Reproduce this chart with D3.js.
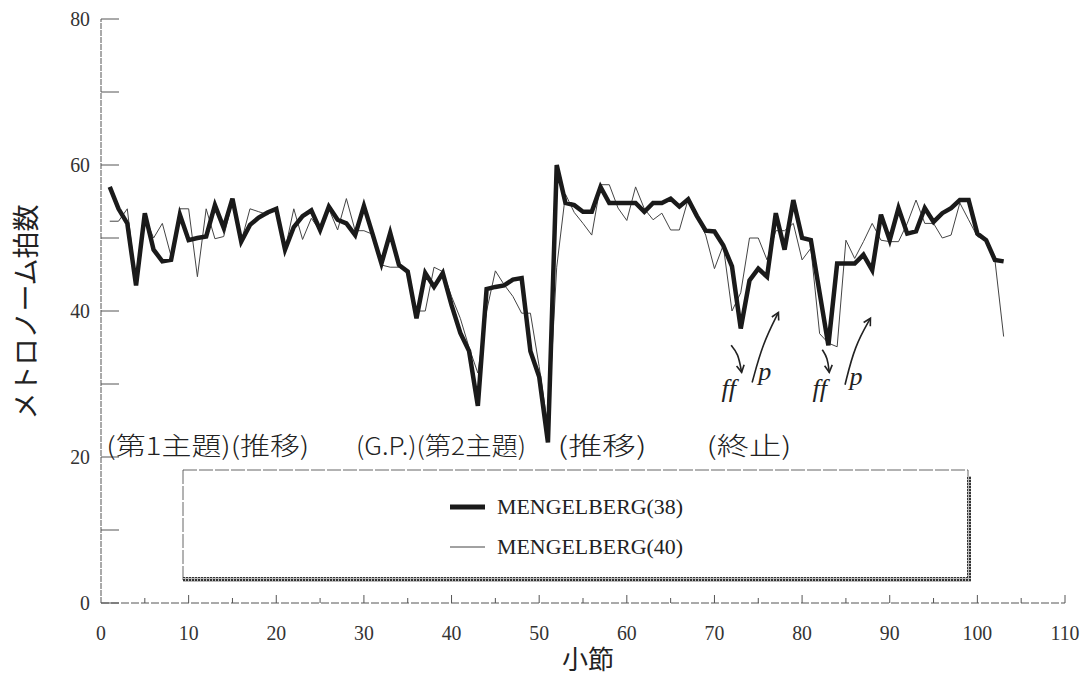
<!DOCTYPE html>
<html>
<head>
<meta charset="utf-8">
<script src="https://cdn.jsdelivr.net/npm/d3@7"></script>
<style>
  body { margin: 0; background: #fff; }
  svg { display: block; }
</style>
</head>
<body>
<svg id="canvas" width="1084" height="678"></svg>
<script>
// measures 1..103
const measures = d3.range(1, 104);

// MENGELBERG (38) - thick line
const mengelberg38 = [
  57, 54, 52, 43.5, 53.4, 48.4, 46.8, 47, 53.2, 49.7,
  50, 50.2, 54.5, 51.4, 55.4, 49.5, 51.8, 52.8, 53.5, 54,
  48.4, 51.5, 53, 53.8, 51.1, 54.3, 52.5, 52, 50.4, 54.4,
  50.5, 46.5, 50.7, 46.3, 45.4, 39, 45.2, 43.3, 45.2, 40.8,
  37, 34.5, 27, 43, 43.3, 43.5, 44.3, 44.5, 34.5, 31,
  22, 60, 54.8, 54.5, 53.6, 53.6, 57, 54.8, 54.8, 54.8,
  54.8, 53.6, 54.8, 54.8, 55.4, 54.3, 55.3, 53, 51, 50.9,
  49, 46.1, 37.6, 44.2, 45.8, 44.7, 53.4, 48.4, 55.2, 50,
  49.7, 42.5, 35.3, 46.5, 46.5, 46.5, 47.7, 45.6, 53.2, 49.7,
  54.1, 50.6, 50.9, 54.1, 52.2, 53.4, 54.1, 55.2, 55.2, 50.6,
  49.7, 47, 46.8
];

// MENGELBERG (40) - thin line
const mengelberg40 = [
  52.3, 52.3, 54, 43.8, 53, 50, 52, 47.5, 54, 54,
  44.7, 54, 49.9, 50.2, 55, 49.5, 54, 53.6, 53.2, 54,
  48.4, 54, 49.8, 52.7, 51, 54, 51.1, 55.4, 51, 51,
  50.5, 46.3, 46, 46, 45.5, 40, 40, 46, 45.4, 42,
  39, 35, 31.5, 40, 45.5, 43.6, 42, 39.7, 39.7, 32.4,
  24, 46, 56, 53.5, 52, 50.4, 57.3, 57.3, 54.1, 52.4,
  57, 54, 52.5, 53.4, 51.1, 51.1, 55.3, 53, 50.4, 45.8,
  49, 40, 42.5, 50, 50, 47, 51, 51, 52, 47,
  48.6, 36.9, 35.6, 35.1, 49.7, 47.2, 49.5, 52, 49.7, 49.5,
  49.5, 52, 55.2, 52, 52, 50, 50.4, 54.8, 52.5, 50.2,
  49.7, 47, 36.5
];

const xTicks = d3.range(0, 111, 10);
const yTicks = d3.range(0, 81, 20);
const seriesNames = ["MENGELBERG(38)", "MENGELBERG(40)"];

// hand-written notes: [measure, value, text]
const sectionNotes = [
  [0.6, 20.3, "(第1主題)(推移)"],
  [29.1, 20.3, "(G.P.)(第2主題)"],
  [52.1, 20.3, "(推移)"],
  [69.1, 20.3, "(終止)"]
];
const sectionSpan = [203, 170, 89, 85];
const dynNotes = [
  [70.8, 28.2, "ff"],
  [75, 30.6, "p"],
  [81.2, 28.2, "ff"],
  [85.4, 29.8, "p"]
];

const svg = d3.select("#canvas");
const x = d3.scaleLinear().domain([0, 110]).range([101, 1065]);
const y = d3.scaleLinear().domain([0, 80]).range([603, 19]);

const ink = "#1a1a1a";
const grey = "#555";

// axes
const axG = svg.append("g");
axG.append("line")
  .attr("x1", x(0)).attr("x2", x(0)).attr("y1", y(0)).attr("y2", y(80))
  .style("stroke", grey).style("stroke-width", 1).style("stroke-dasharray", "6,1");
axG.append("line")
  .attr("x1", x(0)).attr("x2", x(110)).attr("y1", y(0)).attr("y2", y(0))
  .style("stroke", grey).style("stroke-width", 1).style("stroke-dasharray", "8,2");

axG.selectAll(".ytick")
  .data(d3.range(0, 81, 10))
  .join("line")
  .attr("x1", x(0)).attr("x2", x(0) + 18)
  .attr("y1", (d) => y(d)).attr("y2", (d) => y(d))
  .style("stroke", grey).style("stroke-width", 1);

axG.selectAll(".xtick")
  .data(d3.range(5, 111, 5))
  .join("line")
  .attr("x1", (d) => x(d)).attr("x2", (d) => x(d))
  .attr("y1", y(0)).attr("y2", (d) => y(0) - (d % 10 === 0 ? 8 : 5))
  .style("stroke", grey).style("stroke-width", 1);

axG.selectAll(".ylab")
  .data(yTicks)
  .join("text")
  .attr("transform", (d) => "translate(90," + (y(d) + 7) + ") scale(0.9,1)")
  .attr("text-anchor", "end")
  .style("font-family", "Liberation Serif")
  .style("font-size", "22px")
  .style("fill", "#333")
  .text((d) => d);

axG.selectAll(".xlab")
  .data(xTicks)
  .join("text")
  .attr("transform", (d) => "translate(" + x(d) + ",640) scale(0.9,1)")
  .attr("text-anchor", "middle")
  .style("font-family", "Liberation Serif")
  .style("font-size", "22px")
  .style("fill", "#333")
  .text((d) => d);

svg.append("text")
  .attr("x", 588).attr("y", 669)
  .attr("text-anchor", "middle")
  .style("font-family", "Noto Sans CJK JP")
  .style("font-size", "26px")
  .style("fill", "#222")
  .text("小節");

svg.append("text")
  .attr("transform", "translate(36,312) rotate(-90)")
  .attr("text-anchor", "middle")
  .style("font-family", "Noto Sans CJK JP")
  .style("font-size", "27px")
  .style("fill", "#222")
  .text("メトロノーム拍数");

// lines
const line = d3.line()
  .x((d, i) => x(measures[i]))
  .y((d) => y(d));

svg.append("path")
  .datum(mengelberg40)
  .attr("d", line)
  .style("fill", "none")
  .style("stroke", "#444")
  .style("stroke-width", 1);

svg.append("path")
  .datum(mengelberg38)
  .attr("d", line)
  .style("fill", "none")
  .style("stroke", ink)
  .style("stroke-width", 4.5)
  .style("stroke-linejoin", "miter");

// notes
svg.selectAll(".sec")
  .data(sectionNotes)
  .join("text")
  .attr("x", (d) => x(d[0])).attr("y", (d) => y(d[1]))
  .attr("textLength", (d, i) => sectionSpan[i])
  .attr("lengthAdjust", "spacingAndGlyphs")
  .style("font-family", "Noto Sans CJK JP")
  .style("font-weight", 300)
  .style("font-size", "25px")
  .style("fill", "#222")
  .text((d) => d[2]);

svg.selectAll(".dyn")
  .data(dynNotes)
  .join("text")
  .attr("x", (d) => x(d[0])).attr("y", (d) => y(d[1]))
  .style("font-family", "Liberation Serif")
  .style("font-style", "italic")
  .style("font-size", "26px")
  .style("fill", "#222")
  .text((d) => d[2]);

// arrows: down to ff, up from p
const arrowDown = [[71.9, 35.3], [72.7, 34.2], [73.1, 31.6]];
const arrowUp = [[74.3, 30.2], [75.5, 35.5], [77.3, 39.8]];
const arrowDown2 = [[82.3, 34.7], [82.9, 33.6], [83.1, 31.6]];
const arrowUp2 = [[84.9, 29.9], [86, 35.2], [87.8, 39]];
const curve = d3.line().x((d) => x(d[0])).y((d) => y(d[1])).curve(d3.curveBasis);
const arrows = [arrowDown, arrowUp, arrowDown2, arrowUp2];
const arrG = svg.append("g")
  .style("fill", "none").style("stroke", "#222").style("stroke-width", 1.6);
arrows.forEach((pts) => {
  arrG.append("path").attr("d", curve(pts));
  const a = pts[pts.length - 1], b = pts[pts.length - 2];
  const ax = x(a[0]), ay = y(a[1]);
  const ang = Math.atan2(ay - y(b[1]), ax - x(b[0]));
  const L = 8;
  arrG.append("path").attr("d",
    "M" + (ax - L * Math.cos(ang - 0.5)) + "," + (ay - L * Math.sin(ang - 0.5)) +
    "L" + ax + "," + ay +
    "L" + (ax - L * Math.cos(ang + 0.5)) + "," + (ay - L * Math.sin(ang + 0.5)));
});

// legend box
const defs = svg.append("defs");
const pat = defs.append("pattern")
  .attr("id", "hatch").attr("width", 3).attr("height", 3)
  .attr("patternUnits", "userSpaceOnUse");
pat.append("rect").attr("width", 3).attr("height", 3).style("fill", "#bbb");
pat.append("rect").attr("width", 2).attr("height", 2).style("fill", "#333");

const lg = svg.append("g");
lg.append("rect")
  .attr("x", 183).attr("y", 470).attr("width", 785).attr("height", 110)
  .style("fill", "#fff").style("stroke", "#666").style("stroke-width", 1)
  .style("stroke-dasharray", "14,2");
lg.append("rect")
  .attr("x", 183).attr("y", 577).attr("width", 788).attr("height", 5)
  .style("fill", "url(#hatch)");
lg.append("rect")
  .attr("x", 967).attr("y", 476).attr("width", 4).attr("height", 106)
  .style("fill", "url(#hatch)");

const lgRows = lg.selectAll(".row")
  .data(seriesNames)
  .join("g")
  .attr("transform", (d, i) => "translate(0," + (507 + i * 40) + ")");
lgRows.append("line")
  .attr("x1", 450).attr("x2", 485)
  .style("stroke", (d, i) => (i === 0 ? ink : "#444"))
  .style("stroke-width", (d, i) => (i === 0 ? 5 : 1));
lgRows.append("text")
  .attr("x", 497).attr("y", 7)
  .attr("textLength", 186)
  .attr("lengthAdjust", "spacingAndGlyphs")
  .style("font-family", "Liberation Serif")
  .style("font-size", "20px")
  .style("fill", "#222")
  .text((d) => d);
</script>
</body>
</html>
